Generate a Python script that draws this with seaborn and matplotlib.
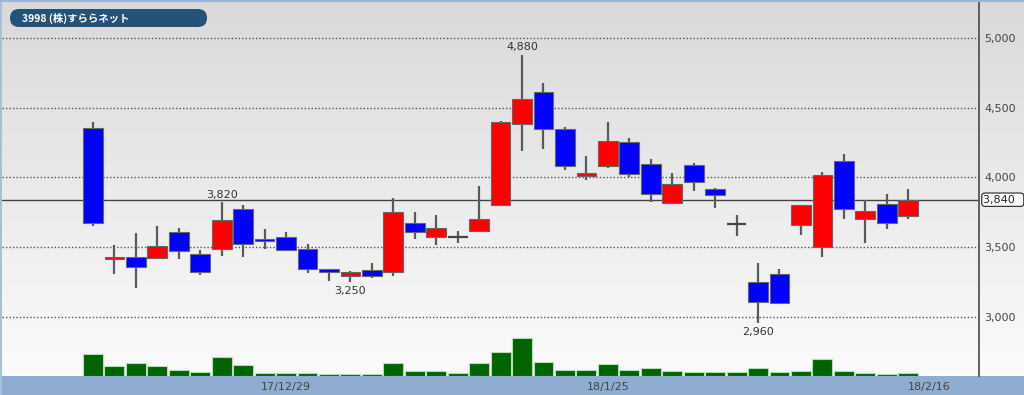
import numpy as np
import pandas as pd
import matplotlib
matplotlib.use("Agg")
import matplotlib.pyplot as plt
import seaborn as sns
from matplotlib.patches import FancyBboxPatch, Rectangle
from matplotlib.colors import LinearSegmentedColormap
from matplotlib.ticker import FuncFormatter
import matplotlib.transforms as mtransforms

# ---------------- data ----------------
title = "3998 (株)すららネット"
opens  = [4350, 3415, 3430, 3425, 3605, 3450, 3490, 3770, 3560, 3575, 3490, 3340, 3290,
          3335, 3320, 3675, 3575, 3570, 3615, 3800, 4380, 4610, 4345, 4010, 4080, 4250,
          4095, 3815, 4090, 3920, 3665, 3250, 3310, 3660, 3500, 4120, 3700, 3810, 3725]
highs  = [4400, 3515, 3600, 3650, 3640, 3480, 3820, 3800, 3630, 3605, 3520, 3345, 3330,
          3390, 3850, 3750, 3730, 3615, 3940, 4405, 4880, 4675, 4360, 4155, 4395, 4280,
          4130, 4030, 4100, 3925, 3730, 3390, 3340, 3805, 4035, 4165, 3840, 3880, 3920]
lows   = [3650, 3305, 3205, 3420, 3415, 3300, 3435, 3430, 3485, 3475, 3315, 3260, 3250,
          3280, 3295, 3555, 3515, 3530, 3615, 3800, 4190, 4200, 4050, 3980, 4065, 4005,
          3820, 3810, 3905, 3780, 3580, 2960, 3100, 3590, 3430, 3700, 3530, 3630, 3700]
closes = [3670, 3430, 3355, 3505, 3475, 3325, 3695, 3520, 3545, 3480, 3345, 3320, 3320,
          3295, 3755, 3610, 3640, 3570, 3700, 4400, 4560, 4345, 4080, 4030, 4260, 4025,
          3880, 3955, 3965, 3875, 3665, 3105, 3100, 3800, 4020, 3770, 3760, 3670, 3840]
volumes = [1085, 515, 665, 500, 300, 215, 965, 550, 165, 135, 165, 115, 115,
           115, 665, 235, 250, 135, 665, 1200, 1900, 685, 300, 300, 615, 300,
           400, 265, 200, 185, 215, 400, 215, 250, 850, 265, 135, 115, 135]
tick_labels = ["17/12/29", "18/1/25", "18/2/16"]
tick_index = [9, 24, 39]
y_ticks = [3000, 3500, 4000, 4500, 5000]
last_price = 3840
marks_above = {6: 3820, 20: 4880}
marks_below = {12: 3250, 31: 2960}

# ---------------- figure ----------------
sns.set_theme(style="white")
plt.rcParams["font.family"] = ["DejaVu Sans"]

W, H = 1024, 395
fig = plt.figure(figsize=(W / 100, H / 100), dpi=100)

# background gradient
bg = fig.add_axes([0, 0, 1, 1], zorder=-10)
cmap = LinearSegmentedColormap.from_list("bg", ["#d9d9d9", "#fdfdfd"])
grad = np.linspace(0, 1, 256).reshape(-1, 1)
bg.imshow(grad, aspect="auto", cmap=cmap, extent=[0, 1, 0, 1], origin="upper")
bg.set_axis_off()
# bottom band and borders
fig.add_artist(Rectangle((0, 0), 1, 19 / H, transform=fig.transFigure,
                         facecolor="#8eadd0", edgecolor="none", zorder=-5))
fig.add_artist(Rectangle((0, 0), 2 / W, 1, transform=fig.transFigure,
                         facecolor="#a6bfdc", edgecolor="none", zorder=-5))
fig.add_artist(Rectangle((0, 1 - 1.5 / H), 1, 1.5 / H, transform=fig.transFigure,
                         facecolor="#9ab5d6", edgecolor="none", zorder=-5))

left_px, right_px, top_px, bot_px = 2, 979, 3, 376
ax = fig.add_axes([left_px / W, (H - bot_px) / H, (right_px - left_px) / W,
                   (bot_px - top_px) / H], zorder=1)
ax.patch.set_alpha(0)

n = len(opens)
x = np.arange(n)
o = np.array(opens); c = np.array(closes); hi = np.array(highs); lo = np.array(lows)

# volume (twin axis)
axv = ax.twinx()
axv.patch.set_alpha(0)
vdf = pd.DataFrame({"idx": x, "vol": volumes})
sns.barplot(data=vdf, x="idx", y="vol", native_scale=True, ax=axv, color="#006400",
            saturation=1, width=0.93, edgecolor="#b8dcb8", linewidth=0.8, zorder=2)
axv.set_ylim(0, (bot_px - top_px) * 50)
axv.set_yticks([])
axv.set_ylabel("")
axv.set_xlabel("")
for s in axv.spines.values():
    s.set_visible(False)

# price axis
ax.set_xlim(-4.24, 41.3)
ax.set_ylim(2577, 5249)

for yv in y_ticks:
    ax.axhline(yv, color="#555555", lw=1.0, ls=(0, (1, 1.5)), zorder=1)
ax.axhline(last_price, color="#444444", lw=1.0, zorder=1.5)

# wicks
ax.vlines(x, lo, hi, color="#5a5a5a", lw=1.6, zorder=3)
# bodies
colors = np.where(c > o, "#ff0000", np.where(c < o, "#0000ff", "#444444"))
bottoms = np.minimum(o, c)
heights = np.abs(c - o)
body = heights > 0
ax.bar(x[body], heights[body], bottom=bottoms[body], width=0.92,
       color=colors[body], edgecolor="#666666", linewidth=0.8, zorder=4)
doji = ~body
ax.hlines(o[doji], x[doji] - 0.46, x[doji] + 0.46, color="#444444", lw=1.6, zorder=4)

# high/low marks
for i, v in marks_above.items():
    ax.annotate(f"{v:,}", (i, v), xytext=(0, 2), textcoords="offset points",
                ha="center", va="bottom", fontsize=8, color="#333333")
for i, v in marks_below.items():
    ax.annotate(f"{v:,}", (i, v), xytext=(0, -3), textcoords="offset points",
                ha="center", va="top", fontsize=8, color="#333333")

# axes styling
for k, s in ax.spines.items():
    s.set_visible(k == "right")
ax.spines["right"].set_color("#555555")
ax.spines["right"].set_linewidth(1.3)
ax.yaxis.tick_right()
ax.set_yticks(y_ticks)
ax.yaxis.set_major_formatter(FuncFormatter(lambda v, p: f"{int(v):,}"))
ax.tick_params(axis="y", length=0, pad=4, labelsize=8, labelcolor="#444444")
ax.set_xticks(tick_index)
ax.set_xticklabels(tick_labels)
ax.tick_params(axis="x", length=0, pad=4, labelsize=8, labelcolor="#444444")
ax.set_xlim(-4.24, 41.3)
ax.grid(False)
axv.grid(False)

# last price tag
trans = mtransforms.blended_transform_factory(ax.transAxes, ax.transData)
ax.text(1.0045, last_price, "3,840  ", transform=trans, ha="left", va="center",
        fontsize=8, color="#222222", zorder=6, clip_on=False,
        bbox=dict(boxstyle="round,pad=0.15,rounding_size=0.3", fc="white",
                  ec="#222222", lw=0.8))

# title box
fig.add_artist(FancyBboxPatch((10, H - 27), 197, 18, transform=None,
                              boxstyle="round,pad=0,rounding_size=9",
                              facecolor="#245279", edgecolor="none", zorder=5))
fig.text(22 / W, (H - 18) / H, title, ha="left", va="center", color="white",
         fontsize=7.5, fontweight="bold", family=["Noto Sans CJK JP", "DejaVu Sans"],
         zorder=6)

fig.savefig("out.png", dpi=100)
